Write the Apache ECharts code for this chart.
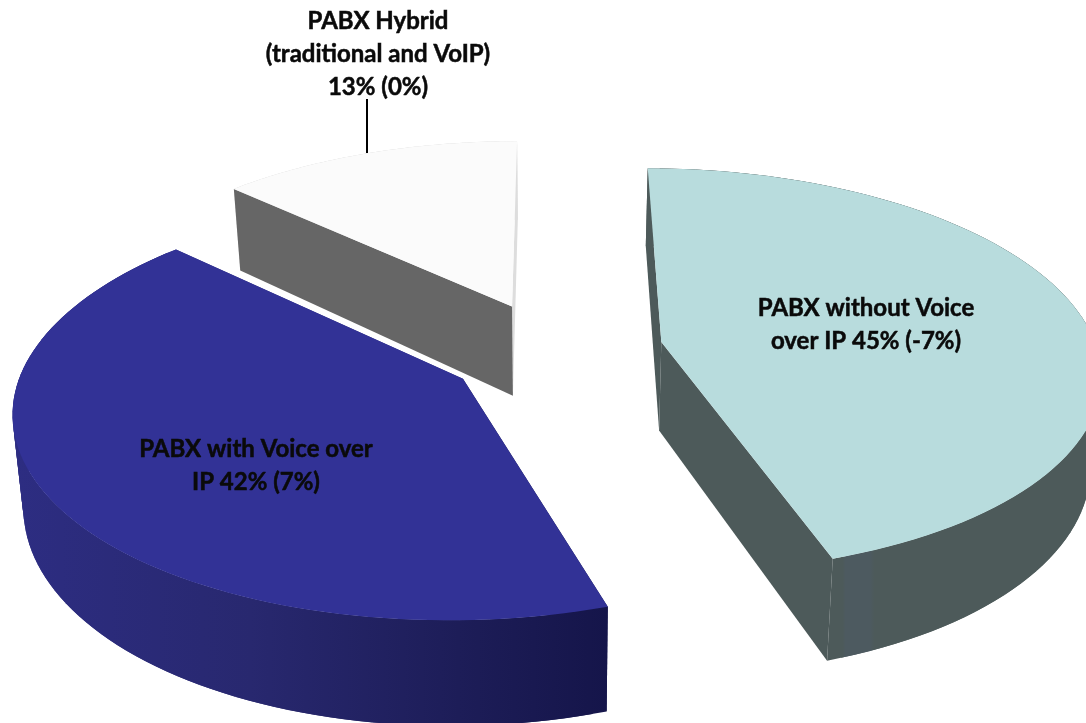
<!DOCTYPE html>
<html>
<head>
<meta charset="utf-8">
<style>html,body{margin:0;padding:0;background:#fff}#c{width:1086px;height:723px}</style>
<script src="https://cdn.jsdelivr.net/npm/echarts@6/dist/echarts.min.js"></script>
</head>
<body>
<div id="c"></div>
<script>
// ---- data ----
const categories = ['PABX without Voice over IP', 'PABX with Voice over IP', 'PABX Hybrid (traditional and VoIP)'];
const shares = [45, 42, 13];
const changes = [-7, 7, 0];
const labelLines = [
  ['PABX without Voice', 'over IP 45% (-7%)'],
  ['PABX with Voice over', 'IP 42% (7%)'],
  ['PABX Hybrid', '(traditional and VoIP)', '13% (0%)']
];

// ---- styling and layout ----
const topColors = ['#b8dcdd', '#323296', '#fbfbfb'];
const startSideColors = ['#4d5a5a', '#15154a', '#666666'];
const endSideColors = ['#4d5a5a', '#2c2c80', '#dddddd'];
const wallStops = [
  [[0, '#4d5a5a'], [0.43, '#4d5a5a'], [0.435, '#4d5a60'], [0.49, '#4d5a60'], [0.5, '#4d5a5a'], [1, '#4d5a5a']],
  [[0, '#2d2d82'], [0.4, '#28286f'], [0.75, '#1d1d58'], [1, '#15154a']],
  [[0, '#dddddd'], [1, '#dddddd']]
];
const labelAt = [[866, 325], [256, 466], [378, 54]];
const leader = { x: 367, y1: 99, y2: 153 };
const view = { cx: 548, cy: 350, a: 436, b: 200, k: 0.14, depth: 89, taper: 0.98, start: -90 };
const explode = [0.26, 0.235, 0.25];
const nudgeX = [2, 3, 6];
const nudgeY = [0, 3, 1];
const extraDepth = [0, 0, 3];

function project(i, wx, wy, lower) {
  const s = 1 / (1 - view.k * wy);
  const t = lower ? view.taper : 1;
  return [
    view.cx + view.a * wx * s * t + nudgeX[i],
    view.cy + view.b * wy * s + nudgeY[i] + (lower ? (view.depth + extraDepth[i]) * s : 0)
  ];
}

const total = shares.reduce((p, v) => p + v, 0);

function sliceGeometry(i) {
  const before = shares.slice(0, i).reduce((p, v) => p + v, 0);
  const a0 = (view.start + before / total * 360) * Math.PI / 180;
  const a1 = a0 + shares[i] / total * 2 * Math.PI;
  const mid = (a0 + a1) / 2;
  const ox = explode[i] * Math.cos(mid), oy = explode[i] * Math.sin(mid);
  const rim = [];
  const n = 90;
  for (let j = 0; j <= n; j++) {
    const t = a0 + (a1 - a0) * j / n;
    rim.push([ox + Math.cos(t), oy + Math.sin(t)]);
  }
  return { apex: [ox, oy], rim, a0, a1 };
}

function renderItem(params) {
  const i = params.dataIndex;
  const g = sliceGeometry(i);
  const P = (p, lower) => project(i, p[0], p[1], lower);
  const first = g.rim[0], last = g.rim[g.rim.length - 1];
  const quad = (p, q) => [P(p, false), P(q, false), P(q, true), P(p, true)];
  const polygon = (points, fill) => ({ type: 'polygon', shape: { points }, style: { fill } });

  const rimTop = g.rim.map(p => P(p, false));
  const xs = rimTop.map(p => p[0]);
  const minX = Math.min.apply(null, xs), maxX = Math.max.apply(null, xs);
  const grad = new echarts.graphic.LinearGradient(minX, 0, maxX, 0,
    wallStops[i].map(s => ({ offset: s[0], color: s[1] })), true);

  const arcWall = [];
  for (let j = 0; j + 2 < g.rim.length; j += 1) {
    arcWall.push(polygon(quad(g.rim[j], g.rim[j + 2]), grad));
  }
  const startWall = polygon(quad(g.apex, first), startSideColors[i]);
  const endWall = polygon(quad(g.apex, last), endSideColors[i]);
  // a radial wall is in view when its outward side faces the front
  const startFacing = -Math.cos(g.a0) > 1e-6;
  const endFacing = Math.cos(g.a1) > 1e-6;
  const children = [];
  if (!startFacing) children.push(startWall);
  if (!endFacing) children.push(endWall);
  children.push.apply(children, arcWall);
  if (startFacing) children.push(startWall);
  if (endFacing) children.push(endWall);
  children.push(polygon([P(g.apex, false)].concat(rimTop), topColors[i]));

  if (i === 2) {
    children.push({ type: 'line', shape: { x1: leader.x, y1: leader.y1, x2: leader.x, y2: leader.y2 }, style: { stroke: '#000', lineWidth: 2 } });
  }
  children.push({
    type: 'text',
    style: {
      text: labelLines[i].join('\n'),
      x: labelAt[i][0], y: labelAt[i][1],
      textAlign: 'center', textVerticalAlign: 'middle',
      font: 'bold 24px Lato, "Open Sans", sans-serif',
      lineHeight: 33,
      fill: '#0a0a0a',
      stroke: '#0a0a0a',
      lineWidth: 0.5
    }
  });
  return { type: 'group', children };
}

const chart = echarts.init(document.getElementById('c'), null, { renderer: 'canvas' });
chart.setOption({
  animation: false,
  backgroundColor: '#ffffff',
  series: [{
    type: 'custom',
    coordinateSystem: 'none',
    silent: true,
    clip: false,
    renderItem,
    data: categories.map((name, i) => ({ name, value: [shares[i], changes[i]] }))
  }]
});
</script>
</body>
</html>
